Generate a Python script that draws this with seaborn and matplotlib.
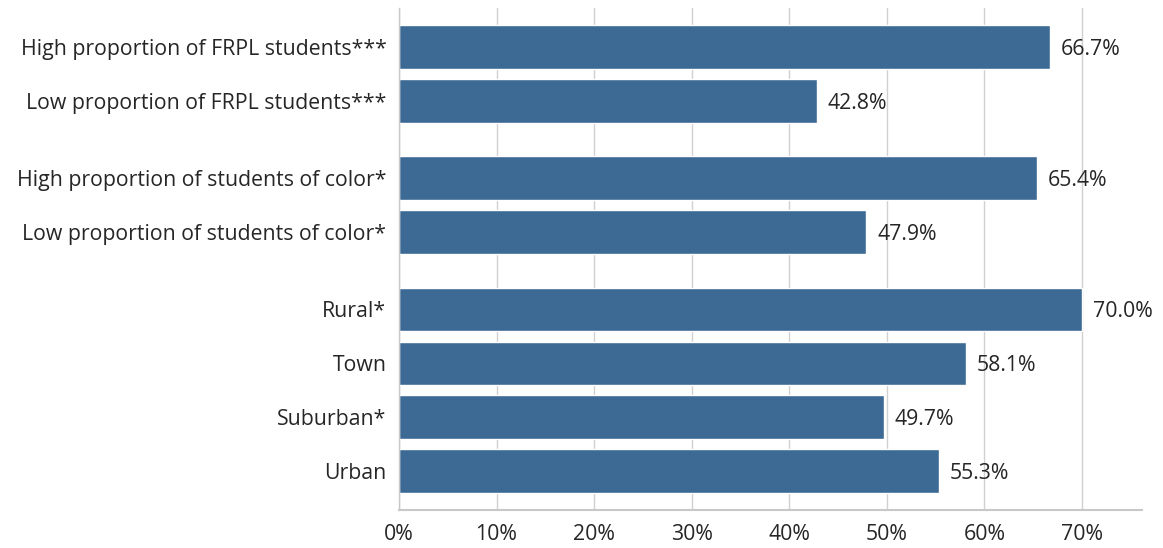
import pandas as pd
import matplotlib.pyplot as plt
import seaborn as sns

# Dữ liệu
labels = ["High proportion of FRPL students***", "Low proportion of FRPL students***",
          "High proportion of students of color*", "Low proportion of students of color*",
          "Rural*", "Town", "Suburban*", "Urban"]
values = [0.667, 0.428, 0.654, 0.479, 0.700, 0.581, 0.497, 0.553]
groups = [0, 0, 1, 1, 2, 2, 2, 2]

GAP = 0.43
pos = [i + g * GAP for i, g in enumerate(groups)]
df = pd.DataFrame({"label": labels, "value": values, "pos": pos})

sns.set_style("white")
plt.rcParams["font.family"] = ["Open Sans", "DejaVu Sans"]
txt = "#262626"
FS = 15.3

fig = plt.figure(figsize=(11.63, 5.48), dpi=100)
ax = fig.add_axes([0.343, 0.069, 0.639, 0.916])

sns.barplot(data=df, x="value", y="pos", orient="h", native_scale=True,
            color="#3d6a94", saturation=1, width=0.81, ax=ax)

for p, v in zip(pos, values):
    ax.text(v + 0.011, p, f"{v*100:.1f}%", va="center_baseline", ha="left",
            fontsize=FS, color=txt)

ax.set_xlim(0, 0.7615)
ax.set_ylim(pos[-1] + 0.72, -0.72)
ax.set_yticks(pos)
ax.set_yticklabels(labels, fontsize=FS, color=txt)
ax.set_xticks([i / 10 for i in range(8)])
ax.set_xticklabels([f"{i*10}%" for i in range(8)], fontsize=FS, color=txt)
ax.xaxis.grid(True, color="#d0d0d0", lw=1)
ax.set_axisbelow(True)
ax.tick_params(axis="both", length=0)
ax.tick_params(axis="x", pad=10)
ax.tick_params(axis="y", pad=9)
ax.set_xlabel("")
ax.set_ylabel("")

for s in ["top", "right"]:
    ax.spines[s].set_visible(False)
ax.spines["left"].set_color("#c8c8c8")
ax.spines["bottom"].set_color("#c8c8c8")
ax.spines["left"].set_linewidth(1)
ax.spines["bottom"].set_linewidth(1.5)

fig.savefig("out.png", dpi=100)
